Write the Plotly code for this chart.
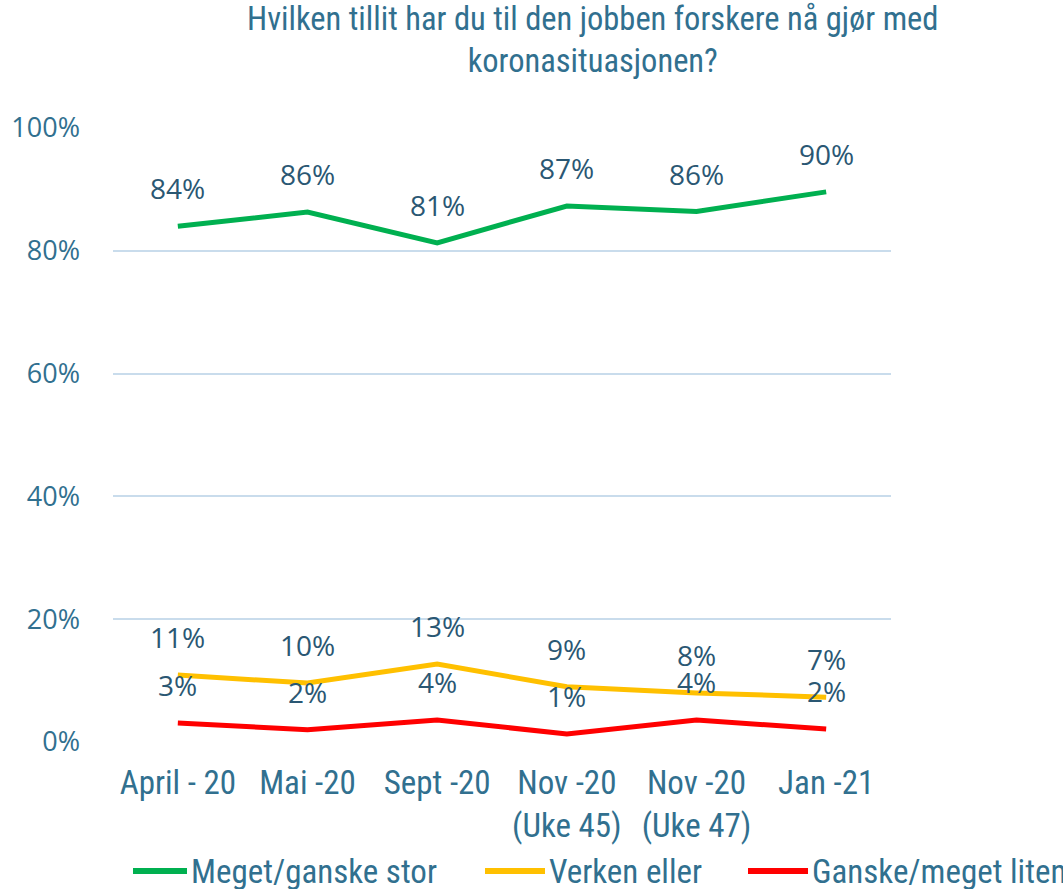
import plotly.graph_objects as go

categories = ["April - 20", "Mai -20", "Sept -20", "Nov -20<br>(Uke 45)", "Nov -20<br>(Uke 47)", "Jan -21"]
meget_stor = [84.0, 86.3, 81.3, 87.3, 86.4, 89.6]
verken = [10.9, 9.6, 12.7, 9.0, 8.0, 7.3]
liten = [3.1, 2.0, 3.6, 1.3, 3.6, 2.1]
series_names = ["Meget/ganske stor", "Verken eller", "Ganske/meget liten"]
series_colors = ["#00B050", "#FFC000", "#FF0000"]
y_ticks = [0, 20, 40, 60, 80, 100]
title_text = "Hvilken tillit har du til den jobben forskere nå gjør med<br>koronasituasjonen?"

NARROW = "Roboto Condensed, Liberation Sans Narrow, sans-serif"
WIDE = "Open Sans, Lato, sans-serif"
TXT = "#31708F"
LBL = "#2A5773"

# plot area (page pixels, body margin removed)
L, R, T, B = 113, 172, 128, 147
W, H = 1063, 889
PH = H - T - B
PW = W - L - R

def px_to_paper_x(x):
    return (x - L) / PW

def px_to_paper_y(y):
    return (H - B - y) / PH

fig = go.Figure()
annotations = []
for name, vals, col in zip(series_names, [meget_stor, verken, liten], series_colors):
    fig.add_trace(go.Scatter(x=categories, y=vals, name=name, mode="lines",
                             line=dict(color=col, width=5), showlegend=False))
    for c, v in zip(categories, vals):
        annotations.append(dict(x=c, y=v, text=f"{round(v):d}%", showarrow=False,
                                yshift=38, font=dict(family=WIDE, size=28, color=LBL)))

# title
annotations.append(dict(text=title_text, xref="paper", yref="paper",
                        x=px_to_paper_x(592), y=px_to_paper_y(40), xanchor="center", yanchor="middle",
                        showarrow=False, font=dict(family=NARROW, size=32.5, color=TXT)))

# manual legend (line sample + label)
shapes = []
leg_x = [133, 485, 748]
leg_len = [54, 60, 60]
leg_y = px_to_paper_y(871)
for name, col, lx, ll in zip(series_names, series_colors, leg_x, leg_len):
    shapes.append(dict(type="line", xref="paper", yref="paper",
                       x0=px_to_paper_x(lx), x1=px_to_paper_x(lx + ll), y0=leg_y, y1=leg_y,
                       line=dict(color=col, width=6)))
    annotations.append(dict(text=name, xref="paper", yref="paper", x=px_to_paper_x(lx + ll + 2), y=leg_y,
                            xanchor="left", yanchor="middle", showarrow=False,
                            font=dict(family=NARROW, size=33, color=TXT)))

fig.update_layout(
    width=W, height=H,
    margin=dict(l=L, r=R, t=T, b=B, autoexpand=False),
    plot_bgcolor="white", paper_bgcolor="white",
    xaxis=dict(showgrid=False, showline=False, ticks="", tickfont=dict(family=NARROW, size=33, color=TXT),
               range=[-0.5, 5.5], ticklabelstandoff=18, automargin=False),
    yaxis=dict(range=[0, 100], tickvals=y_ticks, ticktext=[f"{t}%" for t in y_ticks],
               showgrid=True, gridcolor="#C9DCEC", gridwidth=1.5, zeroline=False,
               tickfont=dict(family=WIDE, size=27, color=TXT), ticklabelstandoff=32, automargin=False),
    annotations=annotations,
    shapes=shapes,
    showlegend=False,
)
fig.write_html("out.html", post_script="document.body.style.margin='0';",
               config={"displayModeBar": False})
